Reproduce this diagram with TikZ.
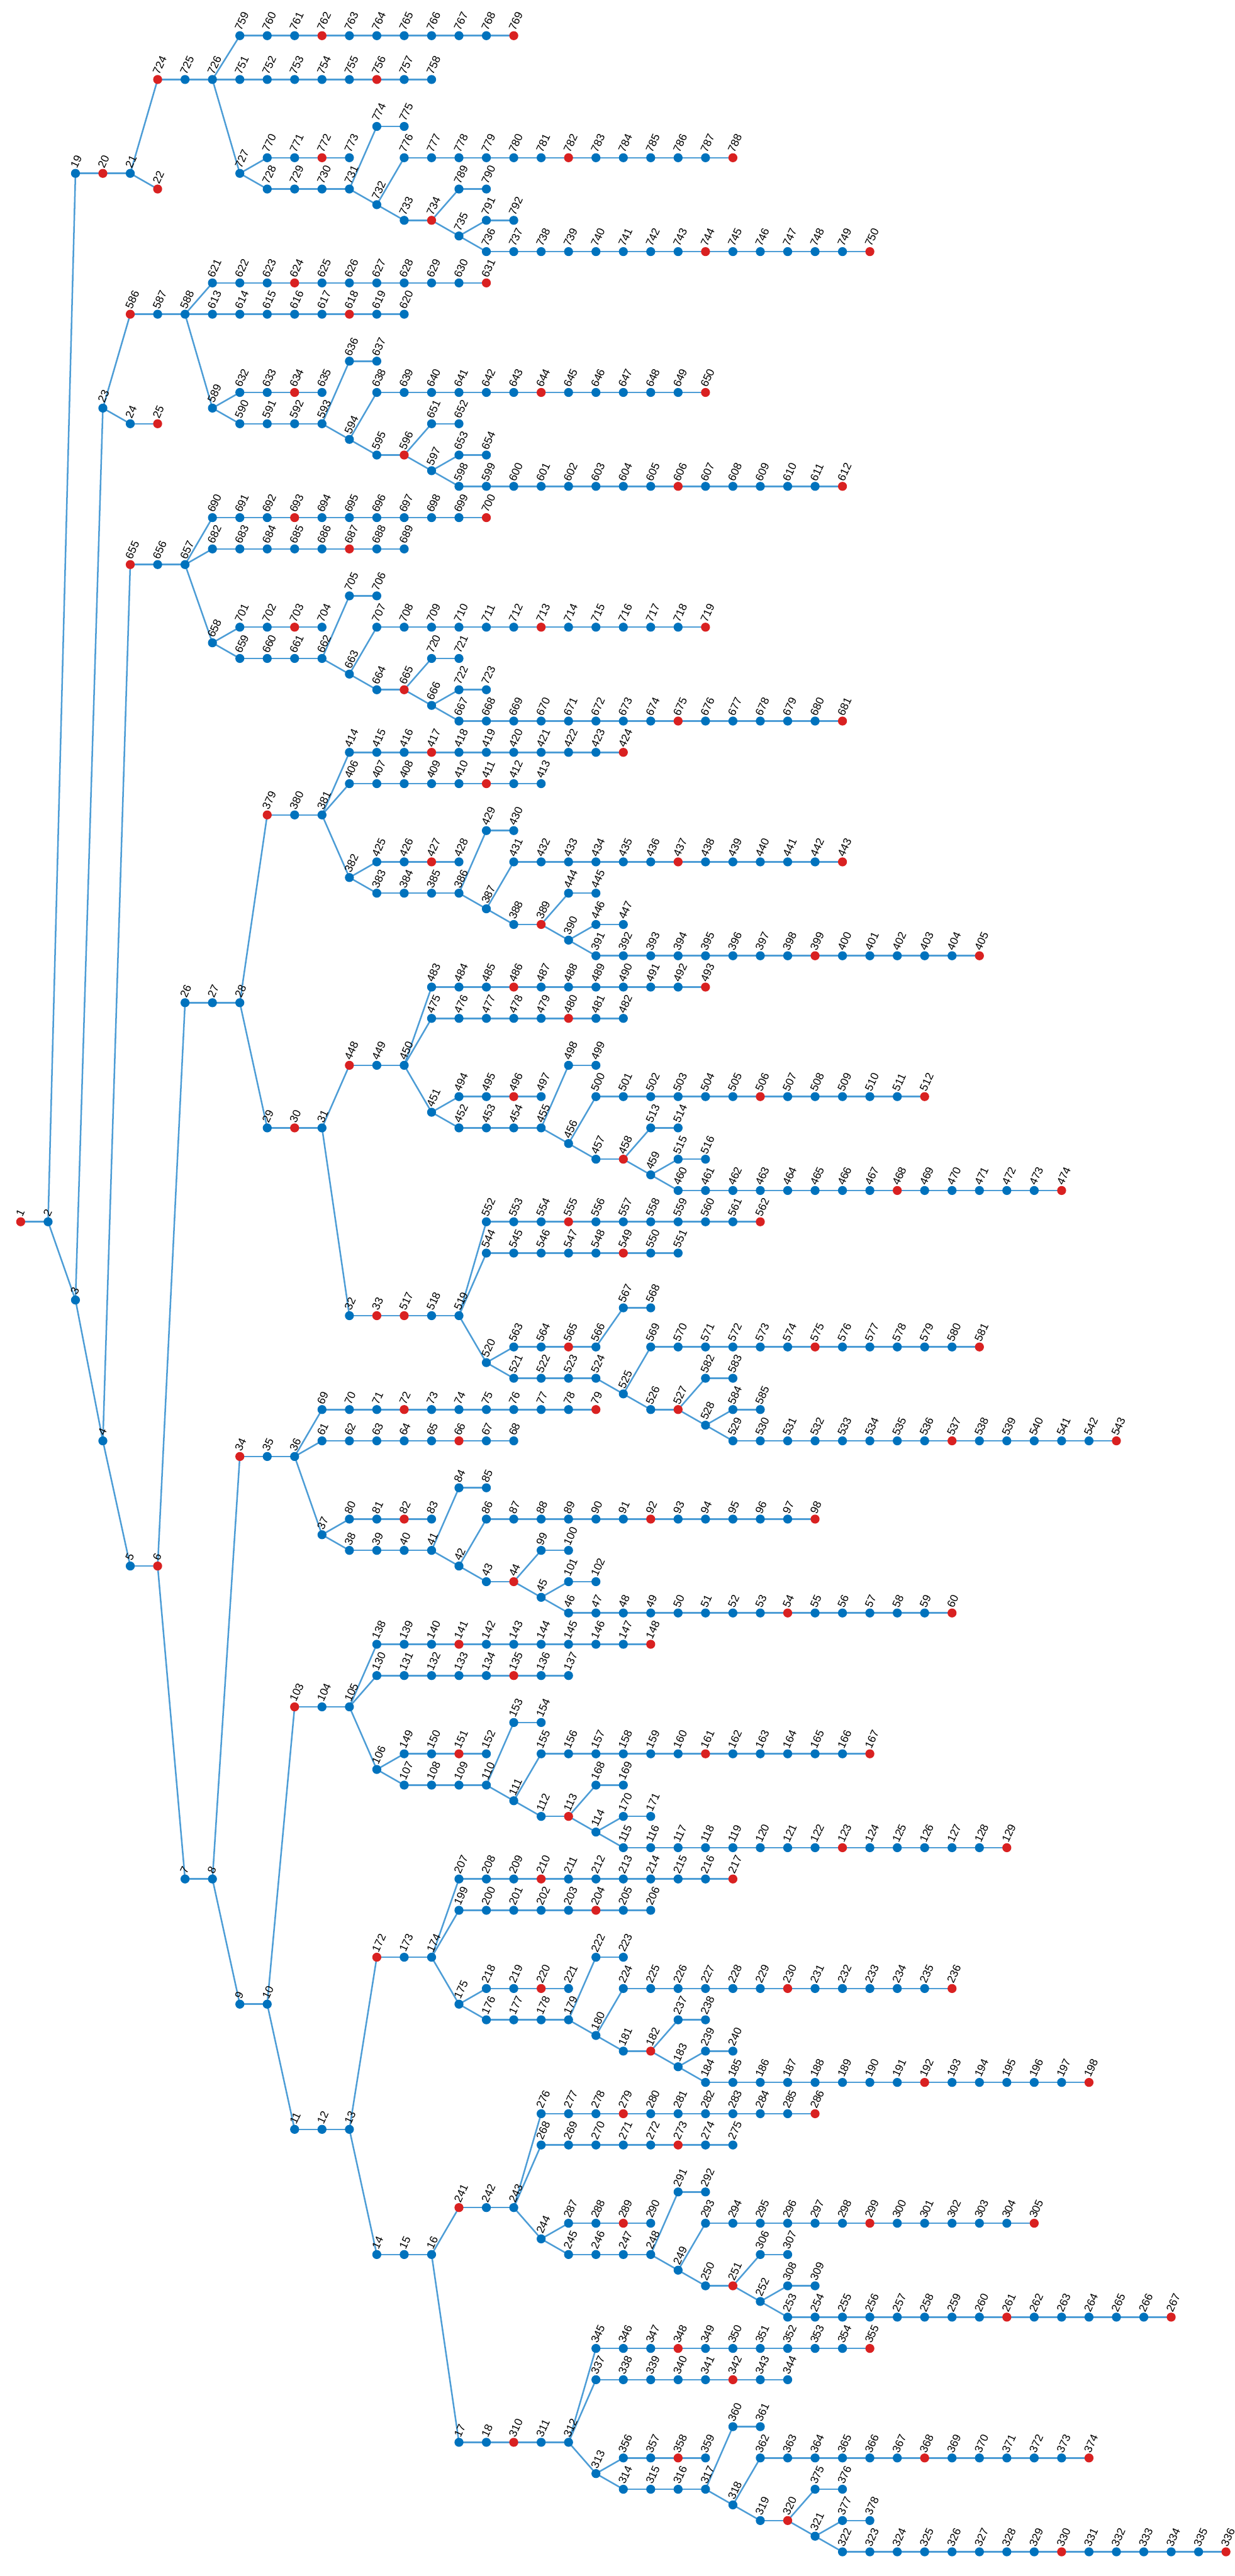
\documentclass[tikz,border=0pt]{standalone}
\usepackage{fontspec}
\setmainfont{Liberation Sans}
\usetikzlibrary{backgrounds}

\definecolor{dotblue}{RGB}{0,114,189}
\definecolor{dotred}{RGB}{217,33,33}
\definecolor{edgeblue}{RGB}{77,157,214}

% chains of consecutive ids: first/last/parent/depth/row
\newcommand{\treechains}{%
1/2/0/0/78,3/3/2/2/83,4/4/3/3/92,5/6/4/4/100,7/8/6/6/120,9/10/8/8/128,%
11/13/10/10/136,14/16/13/13/144,17/18/16/16/156,19/21/2/2/11,22/22/21/5/12,%
23/23/3/3/26,24/25/23/4/27,26/28/6/6/64,29/31/28/9/72,32/33/31/12/84,%
34/36/8/8/93,37/37/36/11/98,38/41/37/12/99,42/42/41/16/100,43/44/42/17/101,%
45/45/44/19/102,46/60/45/20/103,61/68/36/11/92,69/79/36/11/90,80/83/37/12/97,%
84/85/41/16/95,86/98/42/17/97,99/100/44/19/99,101/102/45/20/101,%
103/105/10/10/109,106/106/105/13/113,107/110/106/14/114,111/111/110/18/115,%
112/113/111/19/116,114/114/113/21/117,115/129/114/22/118,130/137/105/13/107,%
138/148/105/13/105,149/152/106/14/112,153/154/110/18/110,155/167/111/19/112,%
168/169/113/21/114,170/171/114/22/116,%
172/174/13/13/125,175/175/174/16/128,176/179/175/17/129,180/180/179/21/130,%
181/182/180/22/131,183/183/182/24/132,184/198/183/25/133,199/206/174/16/122,%
207/217/174/16/120,218/221/175/17/127,222/223/179/21/125,224/236/180/22/127,%
237/238/182/24/129,239/240/183/25/131,%
241/243/16/16/141,244/244/243/19/143,245/248/244/20/144,249/249/248/24/145,%
250/251/249/25/146,252/252/251/27/147,253/267/252/28/148,268/275/243/19/137,%
276/286/243/19/135,287/290/244/20/142,291/292/248/24/140,293/305/249/25/142,%
306/307/251/27/144,308/309/252/28/146,%
310/312/18/18/156,313/313/312/21/158,314/317/313/22/159,318/318/317/26/160,%
319/320/318/27/161,321/321/320/29/162,322/336/321/30/163,337/344/312/21/152,%
345/355/312/21/150,356/359/313/22/157,360/361/317/26/155,362/374/318/27/157,%
375/376/320/29/159,377/378/321/30/161,%
379/381/28/9/52,382/382/381/12/56,383/386/382/13/57,387/387/386/17/58,%
388/389/387/18/59,390/390/389/20/60,391/405/390/21/61,406/413/381/12/50,%
414/424/381/12/48,425/428/382/13/55,429/430/386/17/53,431/443/387/18/55,%
444/445/389/20/57,446/447/390/21/59,%
448/450/31/12/68,451/451/450/15/71,452/455/451/16/72,456/456/455/20/73,%
457/458/456/21/74,459/459/458/23/75,460/474/459/24/76,475/482/450/15/65,%
483/493/450/15/63,494/497/451/16/70,498/499/455/20/68,500/512/456/21/70,%
513/514/458/23/72,515/516/459/24/74,%
517/519/33/14/84,520/520/519/17/87,521/524/520/18/88,525/525/524/22/89,%
526/527/525/23/90,528/528/527/25/91,529/543/528/26/92,544/551/519/17/80,%
552/562/519/17/78,563/566/520/18/86,567/568/566/22/83.5,569/581/525/23/86,%
582/583/527/25/88,584/585/528/26/90,%
586/588/23/4/20,589/589/588/7/26,590/593/589/8/27,594/594/593/12/28,%
595/596/594/13/29,597/597/596/15/30,598/612/597/16/31,613/620/588/7/20,%
621/631/588/7/18,632/635/589/8/25,636/637/593/12/23,638/650/594/13/25,%
651/652/596/15/27,653/654/597/16/29,%
655/657/4/4/36,658/658/657/7/41,659/662/658/8/42,663/663/662/12/43,%
664/665/663/13/44,666/666/665/15/45,667/681/666/16/46,682/689/657/7/35,%
690/700/657/7/33,701/704/658/8/40,705/706/662/12/38,707/719/663/13/40,%
720/721/665/15/42,722/723/666/16/44,%
724/726/21/5/5,727/727/726/8/11,728/731/727/9/12,732/732/731/13/13,%
733/734/732/14/14,735/735/734/16/15,736/750/735/17/16,751/758/726/8/5,%
759/769/726/8/2.2,770/773/727/9/10,774/775/731/13/8,776/788/732/14/10,%
789/790/734/16/12,791/792/735/17/14}

% red nodes
\newcommand{\rednodes}{%
1,6,20,22,25,30,33,34,44,54,60,66,72,79,82,92,98,103,113,123,129,135,141,%
148,151,161,167,172,182,192,198,204,210,217,220,230,236,241,251,261,267,%
273,279,286,289,299,305,310,320,330,336,342,348,355,358,368,374,379,389,%
399,405,411,417,424,427,437,443,448,458,468,474,480,486,493,496,506,512,%
517,527,537,543,549,555,562,565,575,581,586,596,606,612,618,624,631,634,%
644,650,655,665,675,681,687,693,700,703,713,719,724,734,744,750,756,762,%
769,772,782,788}

\begin{document}
\begin{tikzpicture}[
    x=0.609cm, y=-0.348cm,
    dot/.style={circle, fill=dotblue, inner sep=0pt, minimum size=0.2cm},
    lbl/.style={rotate=65, anchor=south west, inner sep=0pt,
      font=\fontsize{7}{8}\selectfont},
    link/.style={draw=edgeblue, line width=1pt}
  ]
  \useasboundingbox (-0.7553,-0.0805) rectangle (44.319,164.546);

  \foreach \i in \rednodes {\expandafter\gdef\csname isred\i\endcsname{}}

  % dots and labels
  \foreach \a/\b/\p/\d/\r in \treechains {
    \foreach \i in {\a,...,\b} {
      \pgfmathtruncatemacro\dd{\d+\i-\a}
      \ifcsname isred\i\endcsname \def\dotcol{dotred}\else \def\dotcol{dotblue}\fi
      \node[dot, fill=\dotcol] (n\i) at (\dd,\r) {};
      \node[lbl] (l\i) at ([shift={(0.04cm,0.09cm)}]n\i.center) {\i};
    }
  }

  % links
  \begin{scope}[on background layer]
    \foreach \a/\b/\p/\d/\r in \treechains {
      \ifnum\p>0 \draw[link] (n\p.center) -- (n\a.center); \fi
      \ifnum\b>\a \draw[link] (n\a.center) -- (n\b.center); \fi
    }
  \end{scope}
\end{tikzpicture}
\end{document}
